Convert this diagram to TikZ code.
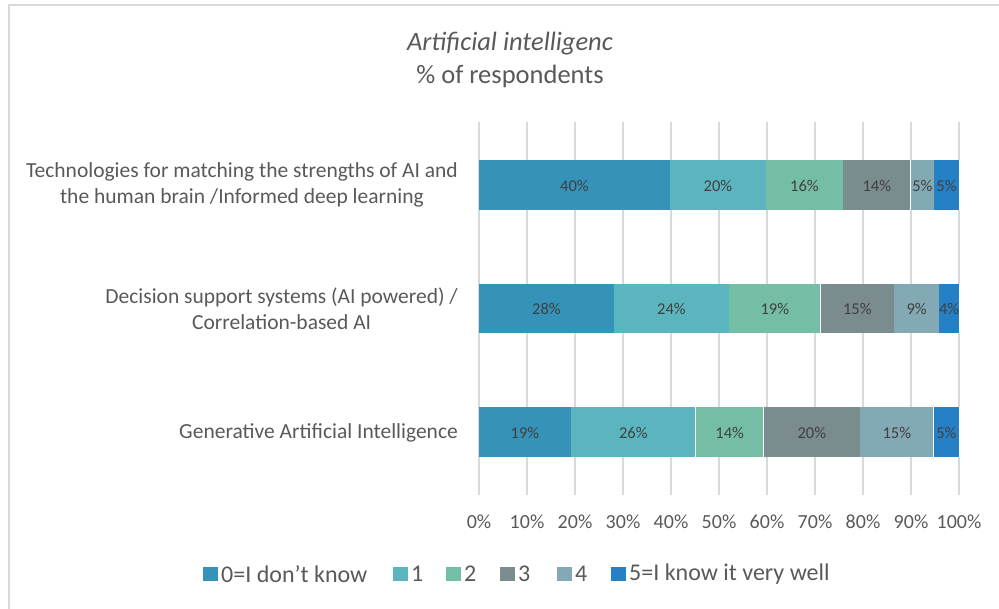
\documentclass[tikz,border=0pt]{standalone}
\usepackage{fontspec}
\setmainfont{Carlito}
\definecolor{cA}{HTML}{3592B8}
\definecolor{cB}{HTML}{5AB5BF}
\definecolor{cC}{HTML}{75BEA6}
\definecolor{cD}{HTML}{7A8C8D}
\definecolor{cE}{HTML}{82A9B4}
\definecolor{cF}{HTML}{2580C6}
\definecolor{txt}{HTML}{595959}
\definecolor{lbltxt}{HTML}{404040}
\definecolor{gridc}{HTML}{D9D9D9}
\definecolor{bord}{HTML}{D9D9D9}
\begin{document}
\begin{tikzpicture}[x=1pt,y=-1pt,
  seglbl/.style={text=lbltxt,font=\fontsize{16.5}{19}\selectfont,inner sep=0pt},
  catlbl/.style={text=txt,font=\fontsize{21.5}{26}\selectfont,align=center,anchor=east,inner sep=0pt},
  axlbl/.style={text=txt,font=\fontsize{20}{24}\selectfont,inner sep=0pt},
  leglbl/.style={text=txt,font=\fontsize{24}{28}\selectfont,anchor=west,inner sep=0pt},
  ttl/.style={text=txt,font=\fontsize{26.5}{31}\selectfont,inner sep=0pt},
  gridline/.style={draw=gridc,line width=1.3pt},
  seg/.style={draw=white,line width=0.6pt}]
\useasboundingbox (0,0) rectangle (999,609);
\draw[bord,line width=2pt] (8.5,620) -- (8.5,5.5) -- (1010,5.5);
% title
\node[ttl] (t1) at (510,44) {\itshape Artificial intelligenc};
\node[ttl] (t2) at (510,76) {\% of respondents};
% grid
\foreach \i in {0,...,10}{
  \draw[gridline] ({479+48*\i},122) -- ({479+48*\i},495);
  \pgfmathtruncatemacro{\p}{10*\i}
  \node[axlbl] (ax\i) at ({479+48*\i},522) {\p\%};
}
% bar 1
\foreach \a/\b/\c/\t in {479/670/cA/40,670/766/cB/20,766/843/cC/16,843/910.7/cD/14,910.7/934/cE/5,934/959/cF/5}{
  \fill[\c] (\a,160.5) rectangle (\b,210);
  \draw[seg] (\b,160.5) -- (\b,210);
  \node[seglbl] at ({(\a+\b)/2},185.5) {\t\%};
}
% bar 2
\foreach \a/\b/\c/\t in {479/614/cA/28,614/729/cB/24,729/820.7/cC/19,820.7/894/cD/15,894/939.3/cE/9,939.3/959/cF/4}{
  \fill[\c] (\a,284.3) rectangle (\b,333.5);
  \draw[seg] (\b,284.3) -- (\b,333.5);
  \node[seglbl] at ({(\a+\b)/2},309) {\t\%};
}
% bar 3
\foreach \a/\b/\c/\t in {479/571/cA/19,571/695.7/cB/26,695.7/763.7/cC/14,763.7/860/cD/20,860/933.7/cE/15,933.7/959/cF/5}{
  \fill[\c] (\a,407.5) rectangle (\b,457.3);
  \draw[seg] (\b,407.5) -- (\b,457.3);
  \node[seglbl] at ({(\a+\b)/2},432.5) {\t\%};
}
% categories
\node[catlbl] (k1) at (458,185) {Technologies for matching the strengths of AI and\\the human brain /Informed deep learning};
\node[catlbl] (k2) at (458,309) {Decision support systems (AI powered) /\\Correlation-based AI};
\node[catlbl] (k3) at (458,433) {Generative Artificial Intelligence};
% legend
\foreach \x/\c/\t/\n in {203/cA/{0=I don’t know}/1,393/cB/1/2,446/cC/2/3,500/cD/3/4,557/cE/4/5,611/cF/{5=I know it very well}/6}{
  \fill[\c] (\x,567) rectangle ({\x+15},581);
  \node[leglbl] (lg\n) at ({\x+18},574) {\t};
}
\end{tikzpicture}
\end{document}
